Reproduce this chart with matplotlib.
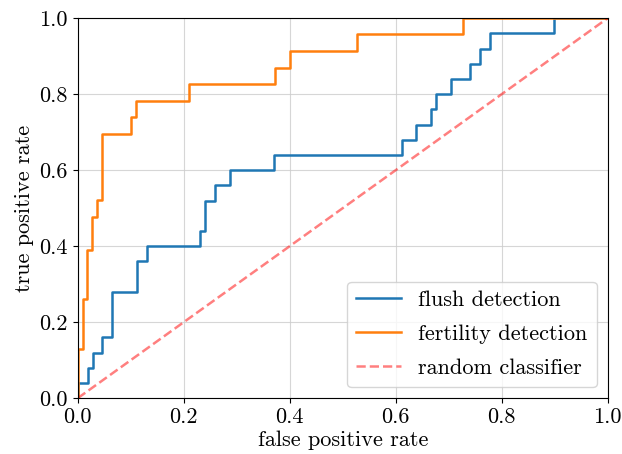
import numpy as np
import matplotlib
matplotlib.use('Agg')
import matplotlib.pyplot as plt

# ROC 曲线的拐点
flush_fpr = [0.0, 0.0, 0.0185, 0.0185, 0.028, 0.028, 0.046, 0.046, 0.065, 0.065,
             0.111, 0.111, 0.130, 0.130, 0.231, 0.231, 0.241, 0.241, 0.259, 0.259,
             0.287, 0.287, 0.370, 0.370, 0.611, 0.611, 0.639, 0.639, 0.667, 0.667,
             0.676, 0.676, 0.704, 0.704, 0.741, 0.741, 0.759, 0.759, 0.778, 0.778,
             0.898, 0.898, 1.0]
flush_tpr = [0.0, 0.04, 0.04, 0.08, 0.08, 0.12, 0.12, 0.16, 0.16, 0.28,
             0.28, 0.36, 0.36, 0.40, 0.40, 0.44, 0.44, 0.52, 0.52, 0.56,
             0.56, 0.60, 0.60, 0.64, 0.64, 0.68, 0.68, 0.72, 0.72, 0.76,
             0.76, 0.80, 0.80, 0.84, 0.84, 0.88, 0.88, 0.92, 0.92, 0.96,
             0.96, 1.0, 1.0]

fert_fpr = [0.0, 0.0, 0.009, 0.009, 0.018, 0.018, 0.027, 0.027, 0.036, 0.036,
            0.045, 0.045, 0.100, 0.100, 0.109, 0.109, 0.209, 0.209, 0.373, 0.373,
            0.400, 0.400, 0.527, 0.527, 0.727, 0.727, 1.0]
fert_tpr = [0.0, 0.130, 0.130, 0.261, 0.261, 0.391, 0.391, 0.478, 0.478, 0.522,
            0.522, 0.696, 0.696, 0.739, 0.739, 0.783, 0.783, 0.826, 0.826, 0.870,
            0.870, 0.913, 0.913, 0.957, 0.957, 1.0, 1.0]

random_x = [0.0, 1.0]
random_y = [0.0, 1.0]

plt.rcParams['font.family'] = 'serif'
plt.rcParams['font.serif'] = ['cmr10']
plt.rcParams['mathtext.fontset'] = 'cm'
plt.rcParams['axes.formatter.use_mathtext'] = True
plt.rcParams['font.size'] = 16

fig = plt.figure(figsize=(6.22, 4.54), dpi=100)
ax = fig.add_axes([0.125, 0.123, 0.852, 0.837])

ax.plot(flush_fpr, flush_tpr, color='#1f77b4', lw=1.8, label='flush detection')
ax.plot(fert_fpr, fert_tpr, color='#ff7f0e', lw=1.8, label='fertility detection')
ax.plot(random_x, random_y, color='red', alpha=0.5, ls='--', lw=1.8, label='random classifier')

ax.set_xlim(0, 1)
ax.set_ylim(0, 1)
ax.set_xticks(np.arange(0, 1.01, 0.2))
ax.set_yticks(np.arange(0, 1.01, 0.2))
ax.set_xticklabels(['0.0', '0.2', '0.4', '0.6', '0.8', '1.0'])
ax.set_yticklabels(['0.0', '0.2', '0.4', '0.6', '0.8', '1.0'])
ax.grid(True, color='#cccccc', lw=0.8, alpha=0.8)
ax.set_xlabel('false positive rate', labelpad=2)
ax.set_ylabel('true positive rate', labelpad=4)
ax.legend(loc='lower right', labelspacing=0.65)

plt.savefig('out.png', dpi=100)
